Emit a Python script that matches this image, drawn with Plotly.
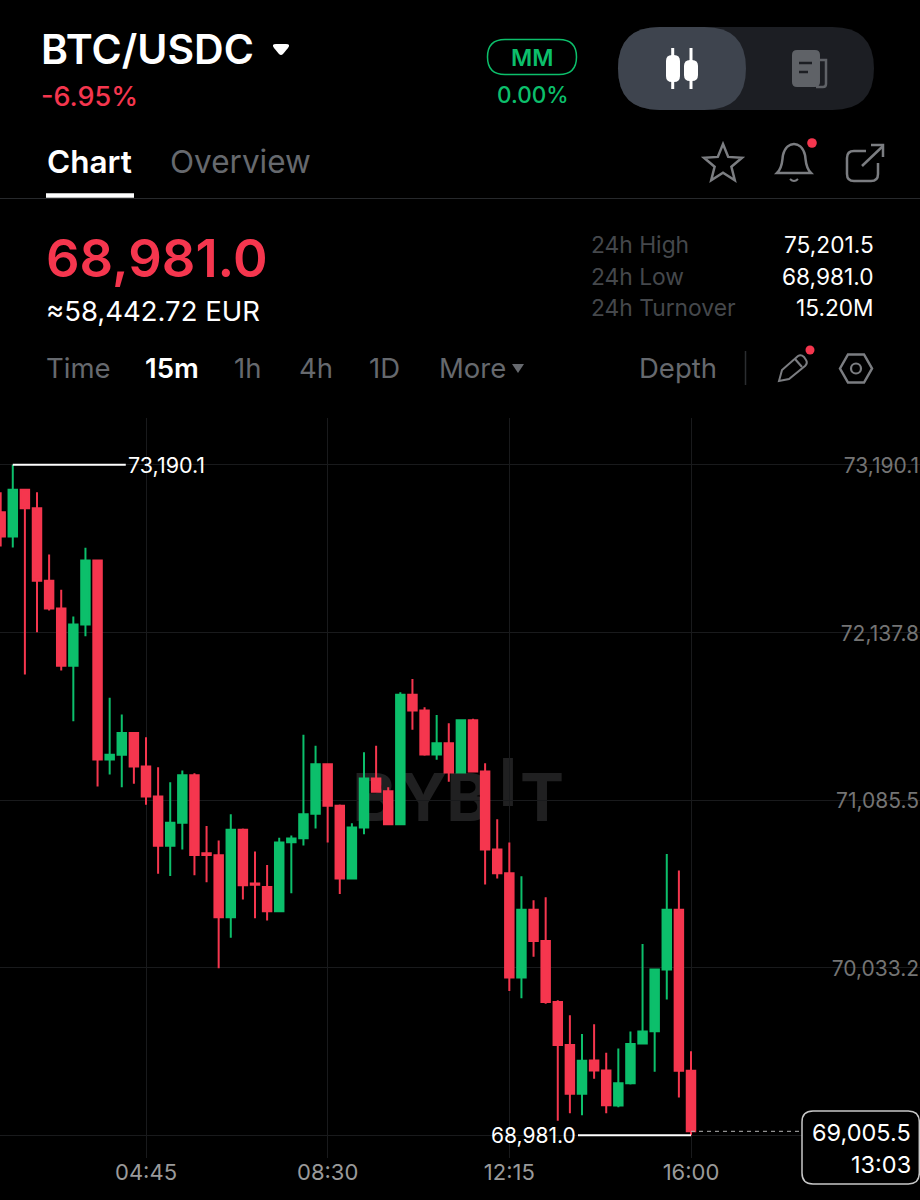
import math
import re
import pandas as pd
import plotly.graph_objects as go

# ---- data ----
start_time = "2024-01-01 01:45"
opens = [72892.5,72740,73033,72918,72462,72288,71928,72187,72589,71340,71369,71507,71296,71107,70798,70942,71241,70751,70739,70350,
         70898,70561,70540,70387,70820,70845,70999,71310,71049,70592,70913,71220,71141,70933,71746,71647,71371,71442,71258,71586,
         71264,70775,70626,69971,70396,70201,69818,69548,69242,69450,69387,69167,69307,69556,69634,70021,70396,69385]
highs = [73018,73190.1,73033,73018,72627,72405,72238,72669,72589,71727,71622,71507,71480,71291,71197,71271,71254,70923,70831,70996,
         70906,70762,70678,70848,70862,71495,71426,71310,71057,70940,71385,71426,71166,71762,71846,71668,71620,71568,71586,71595,
         71316,70965,70818,70607,70456,70475,69828,69734,69617,69678,69498,69525,69632,70182,70025,70747,70643,69508]
lows = [72677,72671,71873,72139,72275,71899,71580,72114,71170,71245,71166,71187,71055,70622,70609,70775,70613,70569,70029,70220,
        70461,70343,70329,70387,70500,70800,70906,70818,70496,70592,70871,71137,70933,70927,71526,71363,71338,71200,71258,71264,
        70555,70592,69887,69841,70101,69806,69071,69119,69106,69335,69119,69156,69299,69556,69379,69833,69217,68981]
closes = [72740,73033,72918,72462,72288,71928,72187,72589,71340,71369,71507,71296,71107,70798,70942,71241,70741,70741,70350,70898,
          70550,70553,70387,70818,70844,70996,71310,71049,70592,70913,71220,71137,70933,71746,71647,71371,71442,71258,71586,71264,
          70775,70626,69971,70396,70201,69818,69548,69242,69448,69387,69169,69307,69554,69632,70021,70396,69385,69005.5]
times = pd.date_range(start_time, periods=len(opens), freq="15min")

price_ticks = [73190.1, 72137.8, 71085.5, 70033.2, 68981.0]
price_labels = ["73,190.1", "72,137.8", "71,085.5", "70,033.2", ""]
time_ticks = ["2024-01-01 04:45", "2024-01-01 08:30", "2024-01-01 12:15", "2024-01-01 16:00", "2024-01-01 19:45"]
time_labels = ["04:45", "08:30", "12:15", "16:00", ""]
high_price, high_label = 73190.1, "73,190.1"
low_price, low_label = 68981.0, "68,981.0"
last_price, last_label, countdown = 69005.5, "69,005.5", "13:03"
stat_names = ["24h High", "24h Low", "24h Turnover"]
stat_values = ["75,201.5", "68,981.0", "15.20M"]

# ---- styling ----
W, H = 920, 1200
RED, GREEN = "#F5364E", "#0CBF6B"
GRID = "#191a1c"
DIM = "#66696e"
FONT = "Inter"

Y_SCALE = 6.279          # price per pixel
Y_TOP_PX, Y_BOT_PX = 418, 1158
Y_TOP = high_price + (464.8 - Y_TOP_PX) * Y_SCALE
Y_BOT = low_price - (Y_BOT_PX - 1135.2) * Y_SCALE
X_LEFT = pd.Timestamp("2024-01-01 04:45") - pd.Timedelta(minutes=146 / 0.8074)
X_RIGHT = pd.Timestamp("2024-01-01 16:00") + pd.Timedelta(minutes=229 / 0.8074)


def px(x):
    return x / W


def py(y):
    return 1 - y / H


def path(d):
    """Pixel-space SVG path -> paper-space SVG path."""
    toks = re.findall(r"[MLCQZ]|-?\d+\.?\d*", d)
    out, i = [], 0
    for t in toks:
        if t in "MLCQZ":
            out.append(t)
        else:
            out.append(f"{px(float(t)) if i % 2 == 0 else py(float(t)):.5f}")
            i += 1
    return " ".join(out)


shapes, annos = [], []


def icon(d, line=None, fill=None, width=2.5):
    shapes.append(dict(type="path", xref="paper", yref="paper", path=path(d),
                       line=dict(color=line or "rgba(0,0,0,0)", width=width if line else 0),
                       fillcolor=fill or "rgba(0,0,0,0)"))


def rrect(x0, y0, x1, y1, r):
    return (f"M {x0+r} {y0} L {x1-r} {y0} Q {x1} {y0} {x1} {y0+r} L {x1} {y1-r} Q {x1} {y1} {x1-r} {y1} "
            f"L {x0+r} {y1} Q {x0} {y1} {x0} {y1-r} L {x0} {y0+r} Q {x0} {y0} {x0+r} {y0} Z")


def circle(cx, cy, r, **kw):
    shapes.append(dict(type="circle", xref="paper", yref="paper", x0=px(cx-r), x1=px(cx+r), y0=py(cy-r), y1=py(cy+r),
                       line=dict(color=kw.get("line", "rgba(0,0,0,0)"), width=kw.get("width", 0)),
                       fillcolor=kw.get("fill", "rgba(0,0,0,0)")))


def text(x, y, s, size, color="#ffffff", anchor="left", weight=400):
    annos.append(dict(xref="paper", yref="paper", x=px(x), y=py(y), text=s, showarrow=False,
                      xanchor=anchor, yanchor="middle", borderpad=0,
                      font=dict(family=FONT, size=size, color=color, weight=weight)))


# header text
text(40, 49, "BTC/USDC", 41, weight=600)
text(40, 97, "-6.95%", 27, RED, weight=500)
text(45.5, 161, "Chart", 31.5, weight=600)
text(169, 161, "Overview", 31.5, DIM)
text(45, 258, "68,981.0", 52.5, RED, weight=600)
text(45, 311, "≈58,442.72 EUR", 27.5)
for x, s, c, w in [(45, "Time", DIM, 400), (144, "15m", "#ffffff", 600), (233, "1h", DIM, 400), (298, "4h", DIM, 400),
                   (368, "1D", DIM, 400), (438, "More", DIM, 400), (638, "Depth", DIM, 400)]:
    text(x, 368, s, 27.5, c, weight=w)
for i, (n, v) in enumerate(zip(stat_names, stat_values)):
    text(589.5, 244 + 32 * i, n, 22.8, "#45484c")
    text(875, 244 + 32 * i, v, 22.7, anchor="right")
text(532, 58, "MM", 23, GREEN, anchor="center", weight=600)
text(533, 95, "0.00%", 22.5, GREEN, anchor="center", weight=500)

# header furniture
icon("M 276 44 L 286 44 Q 291 44 288 48 L 283 54 Q 281 56 279 54 L 274 48 Q 271 44 276 44 Z", fill="#ffffff")
icon(rrect(487.5, 39.5, 576.5, 74.5, 17.5), line=GREEN, width=1.5)
icon(rrect(618, 27, 874, 110, 41.5), fill="#1c1e23")
icon(rrect(618, 27, 746, 110, 41.5), fill="#3e444e")
icon("M 672.7 48 L 672.7 89", line="#ffffff", width=3)
icon("M 691 48 L 691 89", line="#ffffff", width=3)
icon(rrect(666, 55, 680, 82, 6), fill="#ffffff")
icon(rrect(684, 60, 698, 81, 6), fill="#ffffff")
icon(rrect(792, 50, 820, 87, 5), fill="#5f6267")
icon("M 820 60 L 826 60 L 826 84 Q 826 87 823 87 L 816 87", line="#5f6267", width=2.5)
icon("M 799 63 L 812 63", line="#1c1e23", width=2.5)
icon("M 799 72 L 808 72", line="#1c1e23", width=2.5)
star = []
for k in range(10):
    r = 20 if k % 2 == 0 else 8.8
    a = -math.pi / 2 + k * math.pi / 5
    star.append(f"{'M' if k == 0 else 'L'} {723 + r * math.cos(a):.1f} {164 + r * math.sin(a):.1f}")
icon(" ".join(star) + " Z", line="#7b7d81")
icon("M 777 173 L 811 173 C 805 167 806 160 805 155 C 803 147 798 144 794 144 C 790 144 785 147 783 155 C 782 160 783 167 777 173 Z", line="#7b7d81")
icon("M 790 179 Q 794 183 798 179", line="#7b7d81", width=2)
circle(812, 143, 4.8, fill=RED)
icon("M 866 151 L 854 151 Q 847 151 847 158 L 847 174 Q 847 181 854 181 L 871 181 Q 878 181 878 174 L 878 163", line="#7b7d81")
icon("M 862 166 L 883 146", line="#7b7d81")
icon("M 871 145 L 883 145 L 883 157", line="#7b7d81")
icon("M 46 195.5 L 134 195.5", line="#ffffff", width=4.5)
shapes.insert(0, dict(type="line", xref="paper", yref="paper", x0=0, x1=1, y0=py(198.5), y1=py(198.5),
                      line=dict(color="#27292c", width=1)))
icon("M 512 364 L 524 364 L 518 373 Z", fill=DIM)
icon("M 745.5 351 L 745.5 385", line="#2b2d30", width=1.5)
icon("M 779 381 L 782 370 L 798 356 Q 801 354 804 357 L 806 360 Q 808 363 805 366 L 789 379 Z", line="#7b7d81", width=2)
icon("M 795 359 L 802 367", line="#7b7d81", width=2)
circle(810, 350, 4.5, fill=RED)
icon("M 840 368.5 L 848 354.5 L 864 354.5 L 872 368.5 L 864 382.5 L 848 382.5 Z", line="#7b7d81")
circle(856, 368.5, 5, line="#7b7d81", width=2.2)

# watermark, below the candles
for ch, x0, x1, y0, y1, size in [("B", 356, 392, 770, 820, 66), ("Y", 403, 443, 770, 820, 66),
                                 ("B", 450, 486, 770, 820, 66), ("I", 498, 518, 755, 805, 66),
                                 ("T", 522, 562, 770, 820, 66)]:
    shapes.append(dict(type="rect", xref="paper", yref="paper", layer="below", x0=px(x0), x1=px(x1), y0=py(y1), y1=py(y0),
                       line=dict(width=0), fillcolor="rgba(0,0,0,0)",
                       label=dict(text=ch, textposition="middle center",
                                  font=dict(family=FONT, size=size, color="#202021", weight=700))))

# high / low / last markers, anchored on their data values
t_high = times[highs.index(max(highs))]
t_low = times[lows.index(min(lows))]
t_last = times[-1]
for t, price, a, b, col, w, dash in [(t_high, high_price, 0, 113, "#ffffff", 2, "solid"),
                                     (t_low, low_price, -113, 0, "#ffffff", 2, "solid"),
                                     (t_last, last_price, 0, 110, "#b5b5b5", 1, "4px,4px")]:
    shapes.append(dict(type="line", xref="x", yref="y", xsizemode="pixel", xanchor=t, x0=a, x1=b,
                       y0=price, y1=price, line=dict(color=col, width=w, dash=dash)))
annos.append(dict(xref="x", yref="y", x=t_high, y=high_price, xshift=113.5, text=high_label, showarrow=False,
                  xanchor="left", yanchor="middle", font=dict(family=FONT, size=21.5, color="#ffffff")))
annos.append(dict(xref="x", yref="y", x=t_low, y=low_price, xshift=-113, text=low_label, showarrow=False,
                  xanchor="right", yanchor="middle", font=dict(family=FONT, size=21, color="#ffffff")))

# last price box
icon(rrect(802, 1111, 919.3, 1184, 11), line="#c8c8c8", fill="#000000", width=1.5)
text(911.5, 1132, last_label, 23.5, anchor="right")
text(911.5, 1164, countdown, 23.5, anchor="right")

fig = go.Figure(go.Candlestick(
    x=times, open=opens, high=highs, low=lows, close=closes,
    increasing=dict(line=dict(color=GREEN, width=2), fillcolor=GREEN),
    decreasing=dict(line=dict(color=RED, width=2), fillcolor=RED),
    whiskerwidth=0, hoverinfo="skip", showlegend=False))

fig.update_layout(
    width=W, height=H, margin=dict(l=0, r=0, t=0, b=0), autosize=False,
    paper_bgcolor="#000000", plot_bgcolor="#000000", showlegend=False, boxgap=0.3, boxgroupgap=0,
    font=dict(family=FONT, color="#ffffff"),
    xaxis=dict(type="date", domain=[0, 1], range=[X_LEFT, X_RIGHT], rangeslider=dict(visible=False),
               tickmode="array", tickvals=time_ticks, ticktext=time_labels, showgrid=True, gridcolor=GRID, gridwidth=1,
               zeroline=False, showline=False, ticks="", ticklabelstandoff=-1,
               tickfont=dict(family=FONT, size=22, color="#9a9a9a")),
    yaxis=dict(domain=[1 - Y_BOT_PX / H, 1 - Y_TOP_PX / H], range=[Y_BOT, Y_TOP], side="right", ticklabelposition="inside",
               tickmode="array", tickvals=price_ticks, ticktext=price_labels, showgrid=True, gridcolor=GRID, gridwidth=1,
               zeroline=False, showline=False, ticks="", ticklabelstandoff=-2, ticklabelshift=1,
               tickfont=dict(family=FONT, size=21, color="#747474")),
    shapes=shapes, annotations=annos,
)

fig.write_html("out.html", config=dict(displayModeBar=False),
               post_script="document.body.style.margin='0';document.body.style.background='#000';document.documentElement.style.overflow='hidden';")
